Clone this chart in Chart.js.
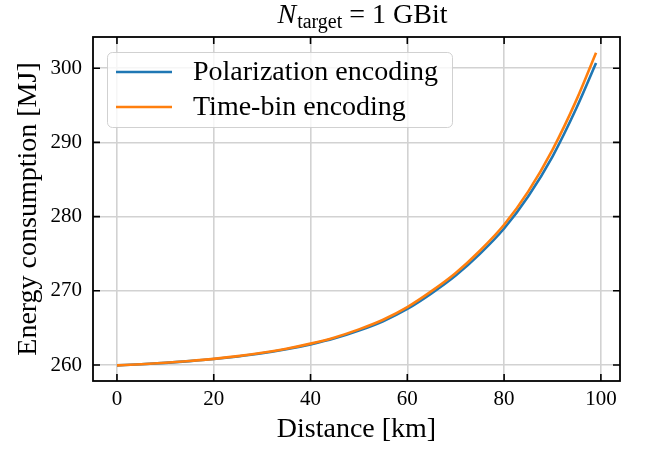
<!DOCTYPE html>
<html><head><meta charset="utf-8">
<script src="https://cdn.jsdelivr.net/npm/chart.js@4.4.0/dist/chart.umd.min.js"></script>
<style>html,body{margin:0;padding:0;background:#fff}canvas{display:block}</style>
</head><body>
<canvas id="c" width="649" height="452" style="width:649px;height:452px"></canvas>
<script>
// ---- data ----
const distanceKm = [0,5,10,15,20,25,30,35,40,45,50,55,60,65,70,75,80,85,90,95,99];
const polarizationMJ = [259.95,260.10,260.29,260.52,260.80,261.15,261.58,262.12,262.78,263.59,264.64,265.90,267.55,269.65,272.05,274.98,278.40,282.75,288.10,294.70,300.70];
const timeBinMJ = [259.95,260.11,260.30,260.54,260.83,261.19,261.64,262.19,262.88,263.72,264.80,266.10,267.80,269.95,272.40,275.40,278.90,283.40,289.00,295.80,302.10];
const xTickValues = [0,20,40,60,80,100];
const yTickValues = [260,270,280,290,300];
const seriesNames = ['Polarization encoding','Time-bin encoding'];
const titleSymbol = 'N', titleSubscript = 'target', titleRest = ' = 1 GBit';
const xAxisLabel = 'Distance [km]';
const yAxisLabel = 'Energy consumption [MJ]';

const SERIF = "'Liberation Serif', 'DejaVu Serif', serif";
const colors = ['#1f77b4', '#ff7f0e'];

function padRange(arrs){
  const all = [].concat(...arrs);
  const mn = Math.min(...all), mx = Math.max(...all), m = 0.05*(mx-mn);
  return [mn-m, mx+m];
}
const [xMin, xMax] = padRange([distanceKm]);
const [yMin, yMax] = padRange([polarizationMJ, timeBinMJ]);

const framePlugin = {
  id: 'frame',
  afterDatasetsDraw(chart){
    const {ctx, chartArea: a, scales} = chart;
    ctx.save();
    ctx.strokeStyle = '#000';
    ctx.lineWidth = 1.6;
    const L = 7;
    ctx.beginPath();
    xTickValues.forEach(v => {
      const px = scales.x.getPixelForValue(v);
      ctx.moveTo(px, a.bottom); ctx.lineTo(px, a.bottom - L);
      ctx.moveTo(px, a.top); ctx.lineTo(px, a.top + L);
    });
    yTickValues.forEach(v => {
      const py = scales.y.getPixelForValue(v);
      ctx.moveTo(a.left, py); ctx.lineTo(a.left + L, py);
      ctx.moveTo(a.right, py); ctx.lineTo(a.right - L, py);
    });
    ctx.stroke();
    ctx.lineWidth = 1.8;
    ctx.strokeRect(a.left, a.top, a.right - a.left, a.bottom - a.top);
    ctx.restore();
  }
};

const legendPlugin = {
  id: 'customLegend',
  afterDraw(chart){
    const {ctx, chartArea: a} = chart;
    ctx.save();
    const bx = a.left + 14, by = a.top + 15, bw = 345, bh = 75;
    ctx.beginPath();
    ctx.roundRect(bx + 0.5, by + 0.5, bw, bh, 5);
    ctx.fillStyle = 'rgba(255,255,255,0.8)';
    ctx.fill();
    ctx.strokeStyle = 'rgba(204,204,204,0.9)';
    ctx.lineWidth = 1;
    ctx.stroke();
    ctx.font = '28px ' + SERIF;
    ctx.textBaseline = 'middle';
    ctx.fillStyle = '#000';
    chart.data.datasets.forEach((ds, i) => {
      const y = by + 20 + i * 35;
      ctx.beginPath();
      ctx.strokeStyle = ds.borderColor;
      ctx.lineWidth = 2.6;
      ctx.moveTo(bx + 9, y); ctx.lineTo(bx + 65, y);
      ctx.stroke();
      ctx.fillText(ds.label, bx + 86, y + 1);
    });
    ctx.restore();
  }
};

const titlePlugin = {
  id: 'texTitle',
  afterDraw(chart){
    const {ctx, chartArea: a} = chart;
    ctx.save();
    ctx.fillStyle = '#000';
    ctx.textBaseline = 'alphabetic';
    const fMain = '28px ' + SERIF, fIt = 'italic 28px ' + SERIF, fSub = '20px ' + SERIF;
    ctx.font = fIt; const w1 = ctx.measureText(titleSymbol).width + 1;
    ctx.font = fSub; const w2 = ctx.measureText(titleSubscript).width;
    ctx.font = fMain; const w3 = ctx.measureText(titleRest).width;
    const total = w1 + w2 + w3;
    let x = (a.left + a.right) / 2 + 6 - total / 2;
    const base = 23;
    ctx.font = fIt; ctx.fillText(titleSymbol, x, base); x += w1;
    ctx.font = fSub; ctx.fillText(titleSubscript, x, base + 5); x += w2;
    ctx.font = fMain; ctx.fillText(titleRest, x, base);
    ctx.restore();
  }
};

new Chart(document.getElementById('c'), {
  type: 'line',
  data: {
    datasets: [
      { label: seriesNames[0], data: distanceKm.map((d,i)=>({x:d, y:polarizationMJ[i]})),
        borderColor: colors[0], backgroundColor: colors[0], borderWidth: 2.6, pointRadius: 0,
        cubicInterpolationMode: 'monotone', order: 1 },
      { label: seriesNames[1], data: distanceKm.map((d,i)=>({x:d, y:timeBinMJ[i]})),
        borderColor: colors[1], backgroundColor: colors[1], borderWidth: 2.6, pointRadius: 0,
        cubicInterpolationMode: 'monotone', order: 0 }
    ]
  },
  options: {
    responsive: false,
    animation: false,
    devicePixelRatio: 1,
    layout: { padding: { top: 37, right: 29, left: 0, bottom: 0 } },
    plugins: { legend: { display: false }, title: { display: false }, tooltip: { enabled: false } },
    scales: {
      x: {
        type: 'linear', min: xMin, max: xMax,
        afterBuildTicks: s => { s.ticks = xTickValues.map(v => ({value: v})); },
        afterFit: s => { s.height = 71; },
        grid: { color: '#d2d2d2', lineWidth: 1.6, drawTicks: false },
        border: { display: false },
        ticks: { color: '#000', padding: 6, font: { family: SERIF, size: 21 }, maxRotation: 0 },
        title: { display: true, text: xAxisLabel, color: '#000', font: { family: SERIF, size: 28 }, padding: { top: 0, bottom: 6 } }
      },
      y: {
        type: 'linear', min: yMin, max: yMax,
        afterBuildTicks: s => { s.ticks = yTickValues.map(v => ({value: v})); },
        afterFit: s => { s.width = 93; },
        grid: { color: '#d2d2d2', lineWidth: 1.6, drawTicks: false },
        border: { display: false },
        ticks: { color: '#000', padding: 11, font: { family: SERIF, size: 21 } },
        title: { display: true, text: yAxisLabel, color: '#000', font: { family: SERIF, size: 28 }, padding: { top: 12, bottom: 0 } }
      }
    }
  },
  plugins: [framePlugin, legendPlugin, titlePlugin]
});
</script>
</body></html>
